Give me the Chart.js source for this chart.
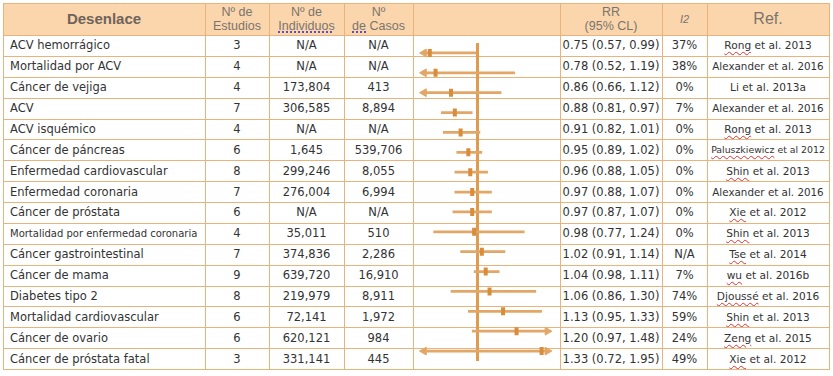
<!DOCTYPE html>
<html>
<head>
<meta charset="utf-8">
<script src="https://cdn.jsdelivr.net/npm/chart.js@4.4.1/dist/chart.umd.min.js"></script>
<style>
    body { margin: 0; background: #fff; width: 833px; height: 376px; overflow: hidden; position: relative; font-family: "DejaVu Sans", sans-serif; }
    .cell { position: absolute; display: flex; align-items: center; justify-content: center; white-space: nowrap; color: #333; font-size: 11.5px; }
    .head { font-family: "Liberation Sans", Arial, sans-serif; color: #7a746e; font-size: 12.5px; line-height: 14px; text-align: center; flex-direction: column; }
    .line { position: absolute; background: #e9b47c; }
    .spell { text-decoration: underline wavy #d33; text-decoration-thickness: 1px; text-underline-offset: 2px; }
    .grammar { text-decoration: underline dotted #5b4fc9; text-decoration-thickness: 2px; text-underline-offset: 1px; }
    #forest { position: absolute; left: 413px; top: 35px; width: 147px; height: 334px; }
</style>
</head>
<body>
<div id="sheet"></div>
<div id="forest"><canvas id="forest-chart" width="147" height="334"></canvas></div>
<script>
// Table data, one entry per outcome (top to bottom)
const outcomes = ['ACV hemorrágico', 'Mortalidad por ACV', 'Cáncer de vejiga', 'ACV', 'ACV isquémico',
    'Cáncer de páncreas', 'Enfermedad cardiovascular', 'Enfermedad coronaria', 'Cáncer de próstata',
    'Mortalidad por enfermedad coronaria', 'Cáncer gastrointestinal', 'Cáncer de mama', 'Diabetes tipo 2',
    'Mortalidad cardiovascular', 'Cáncer de ovario', 'Cáncer de próstata fatal'];
const studies = [3, 4, 4, 7, 4, 6, 8, 7, 6, 4, 7, 9, 8, 6, 6, 3];
const individuals = ['N/A', 'N/A', '173,804', '306,585', 'N/A', '1,645', '299,246', '276,004', 'N/A',
    '35,011', '374,836', '639,720', '219,979', '72,141', '620,121', '331,141'];
const cases = ['N/A', 'N/A', '413', '8,894', 'N/A', '539,706', '8,055', '6,994', 'N/A',
    '510', '2,286', '16,910', '8,911', '1,972', '984', '445'];
const rr = [0.75, 0.78, 0.86, 0.88, 0.91, 0.95, 0.96, 0.97, 0.97, 0.98, 1.02, 1.04, 1.06, 1.13, 1.20, 1.33];
const ciLow = [0.57, 0.52, 0.66, 0.81, 0.82, 0.89, 0.88, 0.88, 0.87, 0.77, 0.91, 0.98, 0.86, 0.95, 0.97, 0.72];
const ciHigh = [0.99, 1.19, 1.12, 0.97, 1.01, 1.02, 1.05, 1.07, 1.07, 1.24, 1.14, 1.11, 1.30, 1.33, 1.48, 1.95];
const i2 = ['37%', '38%', '0%', '7%', '0%', '0%', '0%', '0%', '0%', '0%', 'N/A', '7%', '74%', '59%', '24%', '49%'];
const refs = ['Rong et al. 2013', 'Alexander et al. 2016', 'Li et al. 2013a', 'Alexander et al. 2016',
    'Rong et al. 2013', 'Paluszkiewicz et al 2012', 'Shin et al. 2013', 'Alexander et al. 2016',
    'Xie et al. 2012', 'Shin et al. 2013', 'Tse et al. 2014', 'wu et al. 2016b', 'Djoussé et al. 2016',
    'Shin et al. 2013', 'Zeng et al. 2015', 'Xie et al. 2012'];
const headers = ['Desenlace', 'Nº de|Estudios', 'Nº de|Individuos', 'Nº|de Casos', '', 'RR|(95% CL)', 'I2', 'Ref.'];

// forest plot axis range (beyond it the CI gets an arrow)
const xMin = 0.72;
const xMax = 1.36;

// layout
const colEdges = [3, 205, 269, 344, 413, 560, 662, 707, 829];
const tableTop = 3;
const bodyTop = 35;
const rowH = 334 / 16;
const bodyBottom = bodyTop + rowH * outcomes.length;
const flagged = new Set(['Rong', 'Paluszkiewicz', 'Shin', 'Xie', 'Tse', 'wu', 'Djoussé', 'Zeng']);

const sheet = document.getElementById('sheet');

function addDiv(cls, left, top, width, height, html, style) {
    const d = document.createElement('div');
    d.className = cls;
    d.style.left = left + 'px';
    d.style.top = top + 'px';
    d.style.width = width + 'px';
    d.style.height = height + 'px';
    if (html !== undefined) d.innerHTML = html;
    if (style) Object.assign(d.style, style);
    sheet.appendChild(d);
    return d;
}

// shrink a cell's font until its text fits
function fit(d, fs, maxW) {
    const span = d.firstChild;
    while (span.getBoundingClientRect().width > maxW && fs > 7) { fs -= 0.25; d.style.fontSize = fs + 'px'; }
}

// header background
addDiv('line', colEdges[0], tableTop, colEdges[8] - colEdges[0], bodyTop - tableTop, undefined, { background: '#fbd6ad' });

// header labels
headers.forEach((h, c) => {
    if (!h) return;
    let html = h.split('|').map(s => '<span>' + s + '</span>').join('');
    const style = {};
    if (c === 0) { Object.assign(style, { fontWeight: 'bold', fontSize: '15px', color: '#6f635b' }); }
    if (c === 2) html = '<span>Nº de</span><span><span class="grammar">Individuos</span></span>';
    if (c === 3) html = '<span>Nº</span><span><span class="grammar">de</span> Casos</span>';
    if (c === 6) { html = '<span style="font-style:italic">I2</span>'; style.fontSize = '11px'; }
    if (c === 7) { style.fontSize = '16px'; }
    addDiv('cell head', colEdges[c], tableTop, colEdges[c + 1] - colEdges[c], bodyTop - tableTop, html, style);
});

// body cells
outcomes.forEach((name, i) => {
    const top = bodyTop + i * rowH;
    const cellsText = [name, studies[i], individuals[i], cases[i], null,
        `${rr[i].toFixed(2)} (${ciLow[i].toFixed(2)}, ${ciHigh[i].toFixed(2)})`, i2[i], refs[i]];
    cellsText.forEach((t, c) => {
        if (t === null) return;
        const w = colEdges[c + 1] - colEdges[c];
        const style = {};
        let html = String(t);
        if (c === 0) { style.justifyContent = 'flex-start'; style.paddingLeft = '7px'; style.boxSizing = 'border-box'; }
        if (c === 7) {
            style.fontSize = '10.6px';
            const first = html.split(' ')[0];
            if (flagged.has(first)) html = '<span class="spell">' + first + '</span>' + html.slice(first.length);
        }
        const d = addDiv('cell', colEdges[c], top, w, rowH, '<span>' + html + '</span>', style);
        if (c === 0) fit(d, 11.5, w - 12);
        if (c === 7) fit(d, 10.6, w - 8);
    });
});

// grid lines
addDiv('line', colEdges[0], tableTop, colEdges[8] - colEdges[0], 1);
for (let i = 0; i <= outcomes.length; i++) {
    addDiv('line', colEdges[0], Math.round(bodyTop + i * rowH), colEdges[8] - colEdges[0], 1);
}
colEdges.forEach(x => addDiv('line', x, tableTop, 1, bodyBottom - tableTop + 1));

// forest plot
const lineColor = '#e2a766';
const markColor = '#d98d3a';
const rows = outcomes.map((_, i) => i);

new Chart(document.getElementById('forest-chart').getContext('2d'), {
    type: 'bar',
    data: {
        labels: outcomes,
        datasets: [
            {
                type: 'scatter',
                label: 'RR',
                data: rows.map(i => ({ x: rr[i], y: outcomes[i] })),
                pointStyle: 'line',
                rotation: 90,
                radius: 4,
                borderWidth: 4,
                borderColor: markColor,
                order: 1
            },
            {
                type: 'scatter',
                label: 'CI below axis',
                data: rows.filter(i => ciLow[i] <= xMin).map(i => ({ x: xMin, y: outcomes[i] })),
                pointStyle: 'triangle',
                rotation: -90,
                radius: 4.5,
                backgroundColor: lineColor,
                borderColor: lineColor,
                borderWidth: 1,
                clip: false,
                order: 1
            },
            {
                type: 'scatter',
                label: 'CI above axis',
                data: rows.filter(i => ciHigh[i] >= xMax).map(i => ({ x: xMax, y: outcomes[i] })),
                pointStyle: 'triangle',
                rotation: 90,
                radius: 4.5,
                backgroundColor: lineColor,
                borderColor: lineColor,
                borderWidth: 1,
                clip: false,
                order: 1
            },
            {
                type: 'bar',
                label: 'IC 95%',
                data: rows.map(i => [ciLow[i], ciHigh[i]]),
                backgroundColor: lineColor,
                barThickness: 2,
                order: 2
            }
        ]
    },
    options: {
        indexAxis: 'y',
        responsive: false,
        animation: false,
        layout: { padding: { left: 11, right: 12.6, top: 0, bottom: 0 } },
        plugins: { legend: { display: false }, tooltip: { enabled: false } },
        scales: {
            x: {
                type: 'linear',
                min: xMin,
                max: xMax,
                ticks: { display: false },
                grid: { drawTicks: false, color: '#dd9c50', lineWidth: 3 },
                border: { display: false },
                afterBuildTicks: axis => { axis.ticks = [{ value: 1 }]; }
            },
            y: { display: false }
        }
    }
});
</script>
</body>
</html>
